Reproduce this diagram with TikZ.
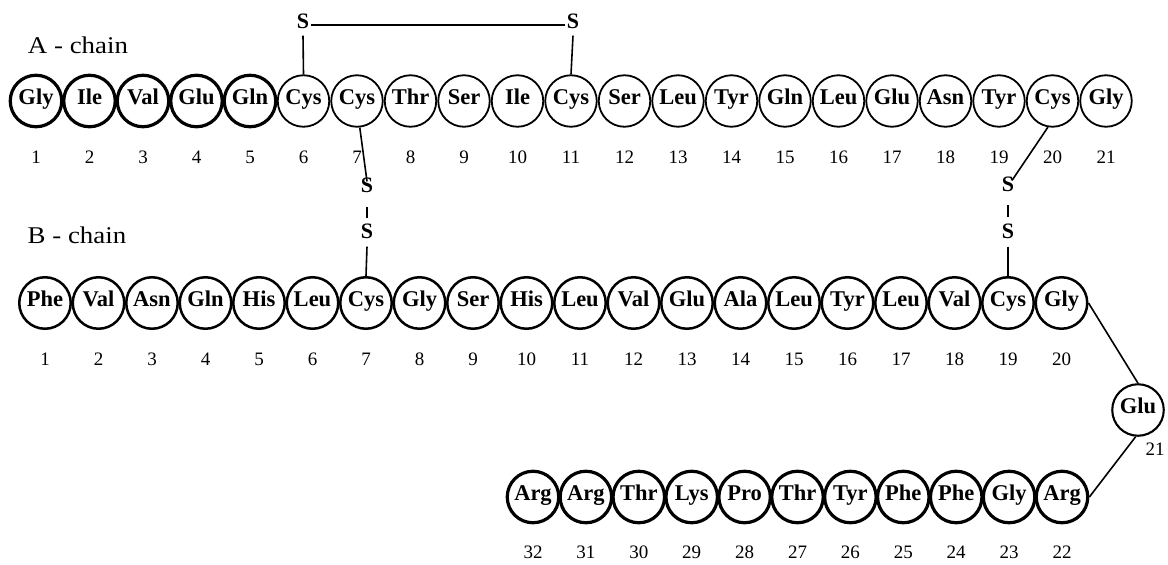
\documentclass[tikz,border=0pt]{standalone}
\usepackage{fontspec}
\setmainfont{Liberation Serif}
\begin{document}
\begin{tikzpicture}[x=1pt,y=-1pt,
 aa/.style={circle,draw,minimum size=51.5pt,inner sep=0pt,text height=0.68em,text depth=0.04em,font=\fontsize{22.5}{22.5}\selectfont\bfseries},
 thk/.style={line width=3.2pt},
 mid/.style={line width=2.5pt},
 thn/.style={line width=1.8pt},
 num/.style={font=\fontsize{19}{19}\selectfont,text height=0.68em,text depth=0pt},
 sulf/.style={font=\fontsize{22}{22}\selectfont\bfseries,inner sep=2pt,text height=0.68em,text depth=0pt},
 bond/.style={line width=1.6pt},
 lbl/.style={font=\fontsize{24}{24}\selectfont}]
\useasboundingbox (0,0) rectangle (1168,565);
% labels
\node[lbl] (labA) at (78,45) {\scalebox{1.12}[1]{A - chain}};
\node[lbl] (labB) at (77,235) {\scalebox{1.12}[1]{B - chain}};
% A chain
\foreach \n [count=\i] in {Gly,Ile,Val,Glu,Gln,Cys,Cys,Thr,Ser,Ile,Cys,Ser,Leu,Tyr,Gln,Leu,Glu,Asn,Tyr,Cys,Gly}{
  \ifnum\i<6 \def\st{thk}\else\def\st{thn}\fi
  \node[aa,\st] (A\i) at ({36+(\i-1)*53.5},101) {\n};
  \node[num] (An\i) at ({36+(\i-1)*53.5},160) {\i};
}
% B chain
\foreach \n [count=\i] in {Phe,Val,Asn,Gln,His,Leu,Cys,Gly,Ser,His,Leu,Val,Glu,Ala,Leu,Tyr,Leu,Val,Cys,Gly}{
  \node[aa,mid] (B\i) at ({45+(\i-1)*53.5},303) {\n};
  \node[num] (Bn\i) at ({45+(\i-1)*53.5},362) {\i};
}
\node[aa,line width=2.1pt] (B21) at (1138,410) {Glu};
\node[num] (Bn21) at (1155,452) {21};
\foreach \n [count=\j] in {Arg,Gly,Phe,Phe,Tyr,Thr,Pro,Lys,Thr,Arg,Arg}{
  \pgfmathtruncatemacro\k{\j+21}
  \node[aa,thk] (B\k) at ({1062-(\j-1)*52.9},497) {\n};
  \node[num] (Bn\k) at ({1062-(\j-1)*52.9},555) {\k};
}
% chain connectors
\draw[bond] (B20.east) -- (B21.north);
\draw[bond] (B21.-95) -- (B22.east);
% disulfide A6-A11
\node[sulf] (Sa) at (303,25) {S};
\node[sulf] (Sb) at (573,25) {S};
\draw[bond] (Sa.east) -- (Sb.west);
\draw[bond] ([yshift=-5pt]Sa.south) -- (A6.north);
\draw[bond] ([yshift=-5pt]Sb.south) -- (A11.north);
% disulfide A7-B7
\node[sulf] (Sc) at (367,189) {S};
\node[sulf] (Sd) at (367,235) {S};
\draw[bond] (A7.-84) -- ([yshift=2pt]Sc.north);
\draw[bond,shorten >=17.5pt,shorten <=17.5pt] (Sc.center) -- (Sd.center);
\draw[bond] ([yshift=-6pt]Sd.south) -- (B7.north);
% disulfide A20-B19
\node[sulf] (Se) at (1008,188) {S};
\node[sulf] (Sf) at (1008,235) {S};
\draw[bond] (A20.-100) -- ([xshift=4pt,yshift=2pt]Se.north);
\draw[bond,shorten >=18pt,shorten <=17pt] (Se.center) -- (Sf.center);
\draw[bond] ([yshift=-6pt]Sf.south) -- (B19.north);
\end{tikzpicture}
\end{document}
